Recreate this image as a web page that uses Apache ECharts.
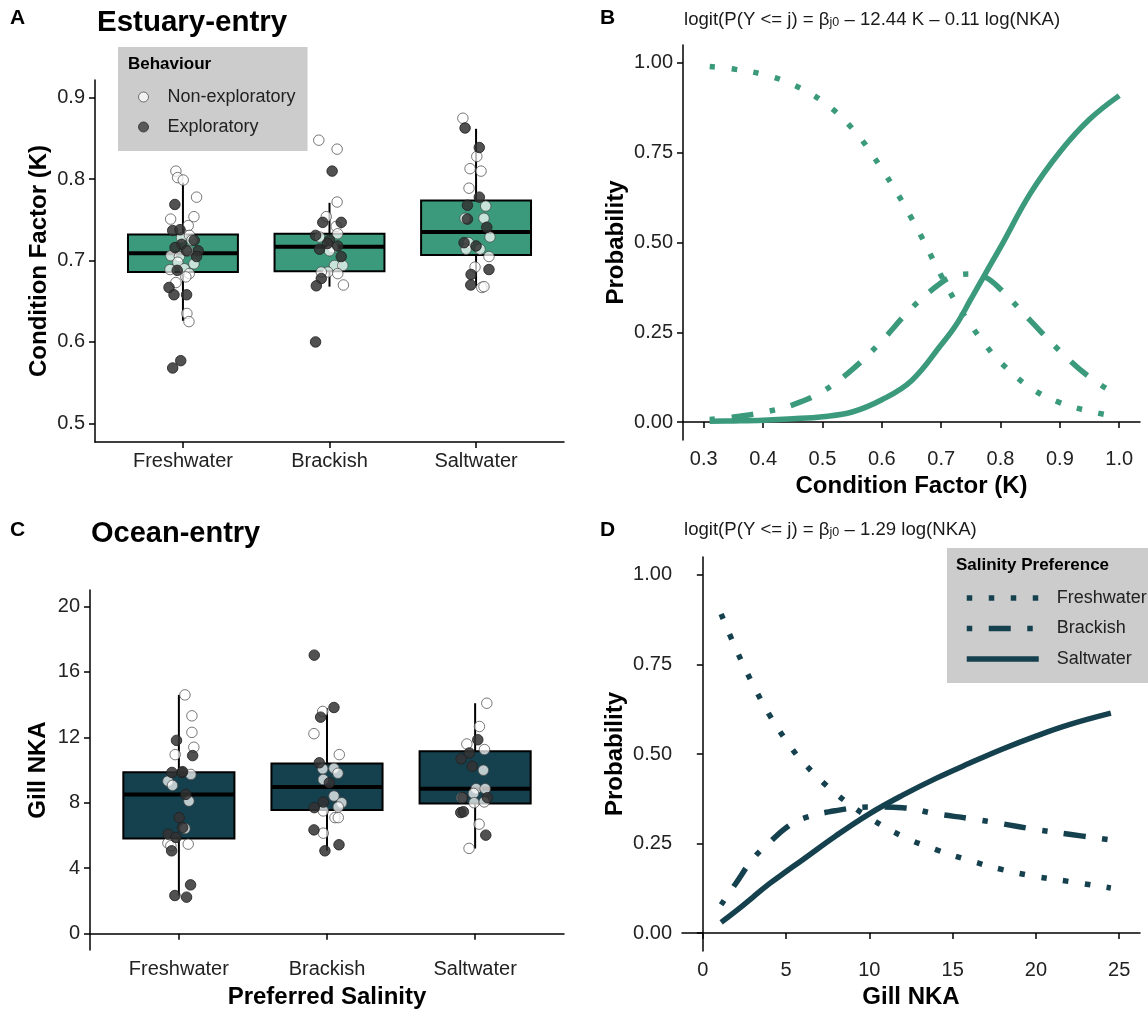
<!DOCTYPE html>
<html>
<head>
<meta charset="utf-8">
<script src="https://cdn.jsdelivr.net/npm/echarts@6/dist/echarts.min.js"></script>
<style>
  html, body { margin: 0; padding: 0; background: #fff; }
  #chart { width: 1148px; height: 1010px; }
</style>
</head>
<body>
<div id="chart"></div>
<script>
const categories = ['Freshwater', 'Brackish', 'Saltwater']

// box stats per salinity group: [low whisker, q1, median, q3, high whisker]
const estuaryBoxes = [
  [0.626, 0.686, 0.709, 0.732, 0.796],
  [0.668, 0.687, 0.717, 0.733, 0.771],
  [0.669, 0.707, 0.735, 0.774, 0.862]
]
const oceanBoxes = [
  [2.33, 5.82, 8.51, 9.87, 14.59],
  [5.06, 7.56, 8.96, 10.40, 13.78],
  [5.20, 7.96, 8.86, 11.14, 14.08]
]

// jittered fish, [group position, value]
const estuaryNonExpl = [
  [0.952, 0.810], [0.964, 0.802], [1.002, 0.799], [1.093, 0.778], [1.075, 0.754], [0.916, 0.751],
  [1.036, 0.743], [0.990, 0.728], [1.045, 0.731], [1.061, 0.725], [0.918, 0.706], [0.976, 0.705],
  [1.035, 0.712], [0.965, 0.698], [1.075, 0.696], [0.912, 0.689], [1.009, 0.690], [1.043, 0.684],
  [1.020, 0.680], [0.952, 0.673], [1.027, 0.635], [1.041, 0.625],
  [1.927, 0.848], [2.052, 0.837], [2.052, 0.772], [1.978, 0.754], [2.046, 0.742], [2.056, 0.733],
  [1.932, 0.729], [2.022, 0.716], [2.000, 0.712], [2.034, 0.694], [2.091, 0.694], [1.989, 0.686],
  [1.944, 0.686], [2.056, 0.684], [2.095, 0.670],
  [2.910, 0.875], [3.005, 0.828], [2.959, 0.813], [3.034, 0.810], [2.952, 0.789], [3.066, 0.767],
  [2.925, 0.752], [3.054, 0.752], [3.095, 0.729], [2.948, 0.722], [2.932, 0.714], [3.027, 0.714],
  [3.088, 0.705], [2.993, 0.692], [3.039, 0.667], [3.054, 0.668]
]
const estuaryExpl = [
  [0.945, 0.769], [0.930, 0.737], [0.980, 0.738], [1.077, 0.725], [0.991, 0.720], [0.946, 0.716],
  [1.104, 0.712], [1.093, 0.705], [1.025, 0.712], [0.961, 0.688], [0.905, 0.667], [0.939, 0.658],
  [1.025, 0.658], [0.985, 0.577], [0.930, 0.568],
  [2.018, 0.810], [1.954, 0.747], [2.080, 0.747], [1.905, 0.731], [2.000, 0.725], [2.056, 0.718],
  [1.932, 0.714], [2.080, 0.705], [1.986, 0.721], [1.944, 0.678], [1.910, 0.669], [1.905, 0.600],
  [2.925, 0.863], [3.022, 0.839], [3.022, 0.778], [2.941, 0.768], [2.941, 0.751], [3.073, 0.741],
  [2.918, 0.722], [3.000, 0.718], [3.088, 0.689], [2.966, 0.683], [2.964, 0.670]
]
const oceanNonExpl = [
  [1.041, 14.59], [1.088, 13.31], [1.088, 12.30], [1.101, 11.39], [0.975, 10.94], [1.081, 9.73],
  [0.926, 9.32], [0.957, 9.06], [1.068, 8.10], [1.041, 6.42], [0.926, 5.53], [0.946, 5.37], [1.063, 5.47],
  [1.971, 13.58], [1.912, 12.22], [2.083, 10.94], [1.971, 10.07], [2.047, 10.10], [2.074, 9.80],
  [1.975, 9.42], [2.047, 8.41], [2.099, 8.00], [2.076, 7.74], [1.975, 7.50], [2.054, 7.09],
  [2.076, 7.09], [1.975, 6.14],
  [3.079, 14.08], [3.029, 12.66], [2.944, 11.59], [3.063, 11.25], [3.056, 9.99], [3.007, 8.86],
  [3.068, 8.86], [2.989, 8.57], [2.910, 8.31], [2.993, 8.00], [3.061, 8.05], [3.027, 6.69], [2.959, 5.21]
]
const oceanExpl = [
  [0.984, 11.81], [1.093, 10.88], [0.953, 9.85], [1.020, 9.85], [1.025, 9.90], [1.047, 8.51],
  [1.002, 7.09], [1.025, 6.48], [0.928, 6.08], [0.980, 5.88], [0.951, 5.06], [1.079, 2.98],
  [0.973, 2.33], [1.052, 2.23],
  [1.914, 17.02], [2.047, 13.82], [1.957, 13.23], [1.948, 10.44], [2.016, 9.22], [1.975, 8.04],
  [1.914, 7.70], [1.912, 6.34], [2.081, 5.43], [1.986, 5.06],
  [3.018, 11.85], [2.961, 11.04], [2.905, 10.68], [2.980, 10.23], [2.917, 8.31], [3.083, 8.31],
  [2.903, 7.40], [2.921, 7.45], [3.072, 6.02]
]

// predicted probabilities, panel B
const conditionK = [0.31, 0.35, 0.40, 0.45, 0.50, 0.55, 0.60, 0.65, 0.70, 0.725, 0.75, 0.775, 0.80, 0.85, 0.90, 0.95, 1.00]
const kFresh = [0.990, 0.983, 0.968, 0.940, 0.893, 0.818, 0.705, 0.568, 0.408, 0.333, 0.270, 0.214, 0.166, 0.096, 0.054, 0.030, 0.014]
const kBrack = [0.007, 0.014, 0.027, 0.048, 0.085, 0.146, 0.226, 0.317, 0.388, 0.408, 0.412, 0.403, 0.370, 0.283, 0.198, 0.125, 0.072]
const kSalt = [0.002, 0.003, 0.005, 0.009, 0.015, 0.028, 0.062, 0.115, 0.215, 0.270, 0.342, 0.415, 0.487, 0.636, 0.752, 0.843, 0.909]

// predicted probabilities, panel D
const gillNKA = [1.1, 2, 3, 4, 5, 6, 8, 10, 12, 14, 16, 18, 20, 22, 24.5]
const nkaFresh = [0.891, 0.792, 0.695, 0.609, 0.538, 0.478, 0.389, 0.322, 0.270, 0.233, 0.203, 0.177, 0.158, 0.144, 0.126]
const nkaBrack = [0.079, 0.140, 0.207, 0.253, 0.294, 0.320, 0.342, 0.352, 0.350, 0.333, 0.320, 0.305, 0.289, 0.276, 0.260]
const nkaSalt = [0.030, 0.062, 0.100, 0.138, 0.172, 0.205, 0.272, 0.333, 0.385, 0.432, 0.474, 0.514, 0.550, 0.582, 0.614]

const estuaryTicks = [0.5, 0.6, 0.7, 0.8, 0.9]
const oceanTicks = [0, 4, 8, 12, 16, 20]
const probTicks = [0, 0.25, 0.5, 0.75, 1]
const kTicks = [0.3, 0.4, 0.5, 0.6, 0.7, 0.8, 0.9, 1.0]
const nkaTicks = [0, 5, 10, 15, 20, 25]

const FONT = '"Liberation Sans", Arial, Helvetica, sans-serif'
const ESTUARY_COLOR = '#3c9a7c'
const OCEAN_COLOR = '#15414f'
const TEXT = '#222'
const LW = 5.5
const DOTTED = [5.5, 16.5]
const DOTDASH = [5.5, 16.5, 22, 16.5]
const CLEAR = 'rgba(0,0,0,0)'

const openStyle = {color: '#ffffff', borderColor: '#444', borderWidth: 1, opacity: 0.72}
const darkStyle = {color: '#333333', borderColor: '#222', borderWidth: 1, opacity: 0.85}

function axisBase(gridIndex, ticks, fmt) {
  return {
    gridIndex: gridIndex,
    type: 'value',
    axisLine: {show: true, lineStyle: {color: '#000', width: 1.5}},
    axisTick: {show: true, length: 6, customValues: ticks, lineStyle: {color: '#000', width: 1.5}},
    axisLabel: {customValues: ticks, color: TEXT, fontSize: 20, fontFamily: FONT, formatter: fmt},
    splitLine: {show: false},
    nameLocation: 'middle',
    nameTextStyle: {fontSize: 24, fontWeight: 'bold', color: '#000', fontFamily: FONT}
  }
}

function catAxis(gridIndex, name) {
  const ax = axisBase(gridIndex, [1, 2, 3], v => categories[Math.round(v) - 1])
  ax.min = 0.4
  ax.max = 3.6
  ax.axisLabel.margin = 9
  if (name) {
    ax.name = name
    ax.nameGap = 35
  }
  return ax
}

function boxRenderer(fill) {
  return function (params, api) {
    const x = api.value(0)
    const low = api.coord([x, api.value(1)])
    const q1 = api.coord([x, api.value(2)])
    const med = api.coord([x, api.value(3)])
    const q3 = api.coord([x, api.value(4)])
    const high = api.coord([x, api.value(5)])
    const half = api.size([0.75, 0])[0] / 2
    const edge = {stroke: '#000', lineWidth: 2}
    return {
      type: 'group',
      children: [
        {type: 'line', shape: {x1: high[0], y1: high[1], x2: q3[0], y2: q3[1]}, style: edge},
        {type: 'line', shape: {x1: q1[0], y1: q1[1], x2: low[0], y2: low[1]}, style: edge},
        {type: 'rect', shape: {x: q3[0] - half, y: q3[1], width: half * 2, height: q1[1] - q3[1]},
          style: {fill: fill, stroke: '#000', lineWidth: 2}},
        {type: 'line', shape: {x1: med[0] - half, y1: med[1], x2: med[0] + half, y2: med[1]},
          style: {stroke: '#000', lineWidth: 4}}
      ]
    }
  }
}

function boxSeries(idx, boxes, fill) {
  return {
    type: 'custom',
    xAxisIndex: idx,
    yAxisIndex: idx,
    renderItem: boxRenderer(fill),
    encode: {x: 0, y: [1, 2, 3, 4, 5]},
    data: boxes.map((b, i) => [i + 1].concat(b)),
    silent: true,
    z: 1
  }
}

function pointSeries(idx, name, data, style) {
  return {
    name: name,
    type: 'scatter',
    xAxisIndex: idx,
    yAxisIndex: idx,
    data: data,
    symbol: 'circle',
    symbolSize: 10.5,
    itemStyle: style,
    silent: true,
    z: 3
  }
}

function probSeries(idx, name, xs, ys, color, dash) {
  return {
    name: name,
    type: 'line',
    xAxisIndex: idx,
    yAxisIndex: idx,
    data: xs.map((x, i) => [x, ys[i]]),
    symbol: 'none',
    showSymbol: false,
    smooth: 0.4,
    color: color,
    lineStyle: {color: color, width: LW, type: dash, cap: 'butt'},
    silent: true,
    z: 2
  }
}

const titleStyle = (size, weight) => ({fontSize: size, fontWeight: weight, color: '#000', fontFamily: FONT})
const formulaStyle = {
  fontSize: 18.6, fontWeight: 'normal', color: '#1a1a1a', fontFamily: FONT,
  rich: {sub: {fontSize: 12.5, fontFamily: FONT, color: '#1a1a1a', verticalAlign: 'bottom', lineHeight: 18}}
}

const chart = echarts.init(document.getElementById('chart'), null, {renderer: 'canvas'})

const probAxis = (idx) => {
  const ax = axisBase(idx, probTicks, v => v.toFixed(2))
  ax.min = -0.05
  ax.max = 1.05
  ax.axisLabel.margin = 10
  ax.name = 'Probability'
  ax.nameGap = 55
  return ax
}

const kAxis = axisBase(1, kTicks, v => v.toFixed(1))
kAxis.min = 0.265
kAxis.max = 1.035
kAxis.axisLabel.margin = 9
kAxis.name = 'Condition Factor (K)'
kAxis.nameGap = 34

const nkaAxis = axisBase(3, nkaTicks, v => String(v))
nkaAxis.min = -1.25
nkaAxis.max = 26.25
nkaAxis.axisLabel.margin = 9
nkaAxis.name = 'Gill NKA'
nkaAxis.nameGap = 34

const estuaryAxis = axisBase(0, estuaryTicks, v => v.toFixed(1))
estuaryAxis.min = 0.477
estuaryAxis.max = 0.922
estuaryAxis.axisLabel.margin = 10
estuaryAxis.name = 'Condition Factor (K)'
estuaryAxis.nameGap = 44

const oceanAxis = axisBase(2, oceanTicks, v => String(v))
oceanAxis.min = -1
oceanAxis.max = 21
oceanAxis.axisLabel.margin = 10
oceanAxis.name = 'Gill NKA'
oceanAxis.nameGap = 40

const options = {
  backgroundColor: '#fff',
  animation: false,
  textStyle: {fontFamily: FONT},
  title: [
    {text: 'A', left: 10, top: 8, padding: 0, textStyle: titleStyle(21, 'bold')},
    {text: 'Estuary-entry', left: 97, top: 8, padding: 0, textStyle: titleStyle(29.5, 'bold')},
    {text: 'B', left: 600, top: 8, padding: 0, textStyle: titleStyle(21, 'bold')},
    {text: 'logit(P(Y <= j) = β{sub|j0} \u2013 12.44 K \u2013 0.11 log(NKA)', left: 684, top: 10, padding: 0, textStyle: formulaStyle},
    {text: 'C', left: 10, top: 520, padding: 0, textStyle: titleStyle(21, 'bold')},
    {text: 'Ocean-entry', left: 91, top: 519, padding: 0, textStyle: titleStyle(29, 'bold')},
    {text: 'D', left: 600, top: 520, padding: 0, textStyle: titleStyle(21, 'bold')},
    {text: 'logit(P(Y <= j) = β{sub|j0} \u2013 1.29 log(NKA)', left: 684, top: 520, padding: 0, textStyle: formulaStyle},
    {text: 'Behaviour', left: 128, top: 56, padding: 0, textStyle: titleStyle(17, 'bold')},
    {text: 'Salinity Preference', left: 956, top: 557, padding: 0, textStyle: titleStyle(17, 'bold')}
  ],
  legend: [
    {
      data: [
        {name: 'Non-exploratory', icon: 'circle', itemStyle: {color: '#fff', borderColor: '#444', borderWidth: 1}},
        {name: 'Exploratory', icon: 'circle', itemStyle: {color: '#444', borderColor: '#333', borderWidth: 1}}
      ],
      orient: 'vertical',
      left: 118,
      top: 47,
      backgroundColor: '#cccccc',
      borderRadius: 0,
      padding: [41, 12, 15, 20],
      itemWidth: 38,
      itemHeight: 10,
      itemGap: 12,
      selectedMode: false,
      textStyle: {fontSize: 18, color: TEXT, fontFamily: FONT}
    },
    {
      data: ['Freshwater', 'Brackish', 'Saltwater'],
      orient: 'vertical',
      left: 947,
      top: 548,
      backgroundColor: '#cccccc',
      borderRadius: 0,
      padding: [41, 14, 15, 17],
      itemWidth: 72,
      itemHeight: 18,
      itemGap: 12.5,
      selectedMode: false,
      itemStyle: {color: CLEAR, borderColor: CLEAR, borderWidth: 0},
      lineStyle: {width: LW, cap: 'butt'},
      textStyle: {fontSize: 18, color: TEXT, fontFamily: FONT, padding: [0, 0, 0, 13]}
    }
  ],
  grid: [
    {left: 95, top: 80, width: 469, height: 362},
    {left: 683, top: 45, width: 457, height: 395},
    {left: 90, top: 590, width: 474, height: 362},
    {left: 682, top: 557, width: 458, height: 394}
  ],
  xAxis: [catAxis(0), kAxis, catAxis(2, 'Preferred Salinity'), nkaAxis],
  yAxis: [estuaryAxis, probAxis(1), oceanAxis, probAxis(3)],
  series: [
    probSeries(3, 'Freshwater', gillNKA, nkaFresh, OCEAN_COLOR, DOTTED),
    probSeries(3, 'Brackish', gillNKA, nkaBrack, OCEAN_COLOR, DOTDASH),
    probSeries(3, 'Saltwater', gillNKA, nkaSalt, OCEAN_COLOR, 'solid'),
    probSeries(1, 'Freshwater', conditionK, kFresh, ESTUARY_COLOR, DOTTED),
    probSeries(1, 'Brackish', conditionK, kBrack, ESTUARY_COLOR, DOTDASH),
    probSeries(1, 'Saltwater', conditionK, kSalt, ESTUARY_COLOR, 'solid'),
    boxSeries(0, estuaryBoxes, ESTUARY_COLOR),
    boxSeries(2, oceanBoxes, OCEAN_COLOR),
    pointSeries(0, 'Non-exploratory', estuaryNonExpl, openStyle),
    pointSeries(0, 'Exploratory', estuaryExpl, darkStyle),
    pointSeries(2, 'Non-exploratory', oceanNonExpl, openStyle),
    pointSeries(2, 'Exploratory', oceanExpl, darkStyle)
  ]
}

chart.setOption(options)
</script>
</body>
</html>
